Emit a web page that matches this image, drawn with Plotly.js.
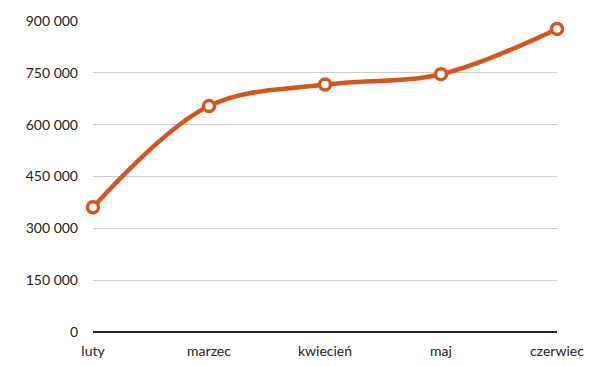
<!DOCTYPE html>
<html>
<head>
<meta charset="utf-8">
<script src="https://cdn.plot.ly/plotly-3.0.1.min.js"></script>
<style>html,body{margin:0;padding:0;background:#fff;}#chart{width:600px;height:366px;}</style>
</head>
<body>
<div id="chart"></div>
<script>
const months = ["luty", "marzec", "kwiecień", "maj", "czerwiec"];
const values = [361000, 654000, 716000, 746000, 877000];
const yTickVals = [0, 150000, 300000, 450000, 600000, 750000, 900000];
const yTickText = ["0", "150 000", "300 000", "450 000", "600 000", "750 000", "900 000"];

const trace = {
  x: months.map((m, i) => i),
  y: values,
  type: "scatter",
  mode: "lines+markers",
  cliponaxis: false,
  line: {color: "#d4561f", width: 4.5, shape: "spline", smoothing: 1},
  marker: {size: 11, color: "#ffffff", line: {color: "#d4561f", width: 3.5}},
  hoverinfo: "skip"
};

const layout = {
  width: 600, height: 366,
  margin: {l: 93, r: 43, t: 21, b: 34},
  paper_bgcolor: "#ffffff", plot_bgcolor: "#ffffff",
  showlegend: false,
  font: {family: "Lato, 'Open Sans', sans-serif", size: 14, color: "#222222"},
  xaxis: {
    range: [0, 4],
    tickvals: months.map((m, i) => i),
    ticktext: months,
    showgrid: false, zeroline: false,
    showline: false, ticks: "",
    ticklabelstandoff: 9,
    tickfont: {size: 14, color: "#222222"}
  },
  yaxis: {
    range: [0, 900000],
    tickvals: yTickVals,
    ticktext: yTickText,
    showgrid: true, gridcolor: "#cccccc", gridwidth: 1,
    zeroline: true, zerolinecolor: "#222222", zerolinewidth: 1.5,
    showline: false, ticks: "",
    ticklabelstandoff: 14,
    tickfont: {size: 14, color: "#222222"}
  }
};

Plotly.newPlot("chart", [trace], layout, {displayModeBar: false, staticPlot: true});
</script>
</body>
</html>
